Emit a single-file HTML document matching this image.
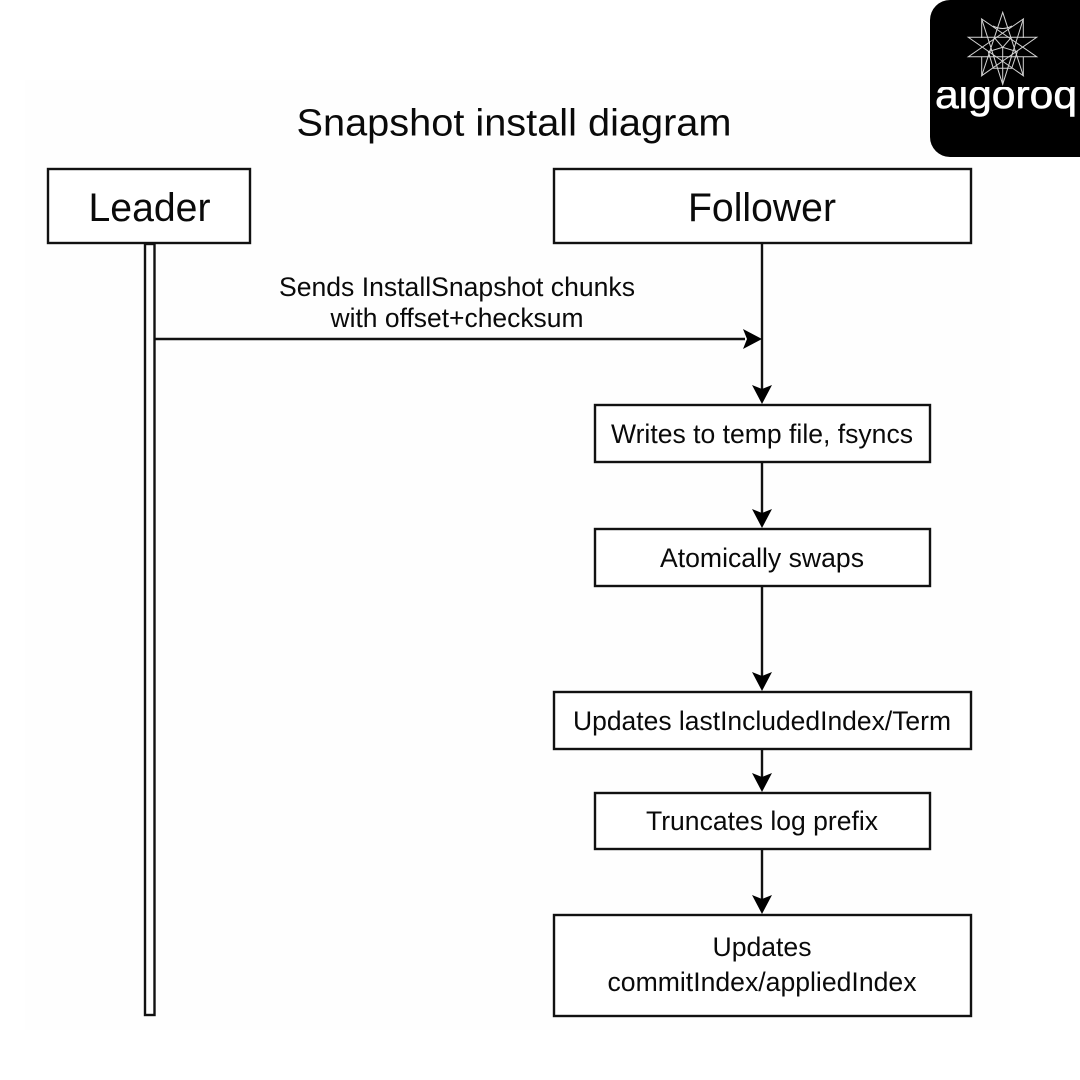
<!DOCTYPE html>
<html>
<head>
<meta charset="utf-8">
<style>
html,body{margin:0;padding:0;background:#fff}
svg{display:block}
text{font-family:"Liberation Sans",Arial,sans-serif;fill:#0a0a0a}
</style>
</head>
<body>
<svg width="1080" height="1080" viewBox="0 0 1080 1080" xmlns="http://www.w3.org/2000/svg">
<defs><clipPath id="c"><rect x="930" y="87" width="150" height="40"/></clipPath></defs>
<rect width="1080" height="1080" fill="#fff"/>
<rect x="25" y="80" width="985" height="950" fill="#fefefe"/>

<text x="514" y="135.500" font-size="38" text-anchor="middle" textLength="435" lengthAdjust="spacingAndGlyphs">Snapshot install diagram</text>

<g fill="#fff" stroke="#111" stroke-width="2.400">
<rect x="48" y="169" width="202" height="74"/>
<rect x="554" y="169" width="417" height="74"/>
<rect x="145" y="244" width="9.500" height="771"/>
<rect x="595" y="405" width="335" height="57"/>
<rect x="595" y="529" width="335" height="57"/>
<rect x="554" y="692" width="417" height="57"/>
<rect x="595" y="793" width="335" height="56"/>
<rect x="554" y="915" width="417" height="101"/>
</g>

<g stroke="#111" stroke-width="2.400" fill="none">
<line x1="155" y1="339" x2="745" y2="339"/>
<line x1="762" y1="243" x2="762" y2="390"/>
<line x1="762" y1="462" x2="762" y2="514"/>
<line x1="762" y1="586" x2="762" y2="677"/>
<line x1="762" y1="749" x2="762" y2="778"/>
<line x1="762" y1="849" x2="762" y2="900"/>
</g>
<g fill="#000">
<polygon points="762,339 743,329 747,339 743,349"/>
<polygon points="762,404 752,385 762,389 772,385"/>
<polygon points="762,528 752,509 762,513 772,509"/>
<polygon points="762,691 752,672 762,676 772,672"/>
<polygon points="762,792 752,773 762,777 772,773"/>
<polygon points="762,914 752,895 762,899 772,895"/>
</g>

<text x="149.500" y="221" font-size="40" text-anchor="middle" textLength="122" lengthAdjust="spacingAndGlyphs">Leader</text>
<text x="762" y="221" font-size="40" text-anchor="middle" textLength="148" lengthAdjust="spacingAndGlyphs">Follower</text>
<text x="457" y="296" font-size="26.500" text-anchor="middle" textLength="356" lengthAdjust="spacingAndGlyphs">Sends InstallSnapshot chunks</text>
<text x="457" y="327" font-size="26.500" text-anchor="middle" textLength="253" lengthAdjust="spacingAndGlyphs">with offset+checksum</text>
<text x="762" y="443" font-size="26.500" text-anchor="middle" textLength="302" lengthAdjust="spacingAndGlyphs">Writes to temp file, fsyncs</text>
<text x="762" y="567" font-size="26.500" text-anchor="middle" textLength="204" lengthAdjust="spacingAndGlyphs">Atomically swaps</text>
<text x="762" y="730" font-size="26.500" text-anchor="middle" textLength="378" lengthAdjust="spacingAndGlyphs">Updates lastIncludedIndex/Term</text>
<text x="762" y="830" font-size="26.500" text-anchor="middle" textLength="232" lengthAdjust="spacingAndGlyphs">Truncates log prefix</text>
<text x="762" y="956" font-size="26.500" text-anchor="middle" textLength="99" lengthAdjust="spacingAndGlyphs">Updates</text>
<text x="762" y="991" font-size="26.500" text-anchor="middle" textLength="309" lengthAdjust="spacingAndGlyphs">commitIndex/appliedIndex</text>

<rect x="930" y="0" width="170" height="157" rx="20" fill="#000"/>
<g stroke="#d4d4d4" stroke-width="1" fill="none">
<polygon points="1002.700,12.300 1023.300,75.700 968.300,37.300 1036.700,37.300 981.700,75.700"/>
<polygon points="1002.700,84.300 981.700,19 1036.700,56.700 968.300,56.700 1023.300,19"/>
<polygon points="1002.700,47.300 1017.300,51.700 1011.700,68.300 993.300,68.300 988.300,51.700"/>
<line x1="1002.700" y1="47.300" x2="1002.700" y2="84.300"/>
<line x1="981.700" y1="19" x2="981.700" y2="38"/>
<line x1="1023.300" y1="19" x2="1023.300" y2="38"/>
<line x1="981.700" y1="57" x2="981.700" y2="75.700"/>
<line x1="1023.300" y1="57" x2="1023.300" y2="75.700"/>
<line x1="1002.700" y1="47.300" x2="994" y2="37.300"/>
<line x1="1002.700" y1="47.300" x2="1011.400" y2="37.300"/>
<path d="M993 26 Q1002.700 31 1012 26"/>
</g>
<g clip-path="url(#c)">
<text x="935" y="108" font-size="39.500" textLength="142" lengthAdjust="spacingAndGlyphs" stroke="#fff" stroke-width="0.600" style="fill:#fff">algoroq</text>
</g>
</svg>
</body>
</html>
